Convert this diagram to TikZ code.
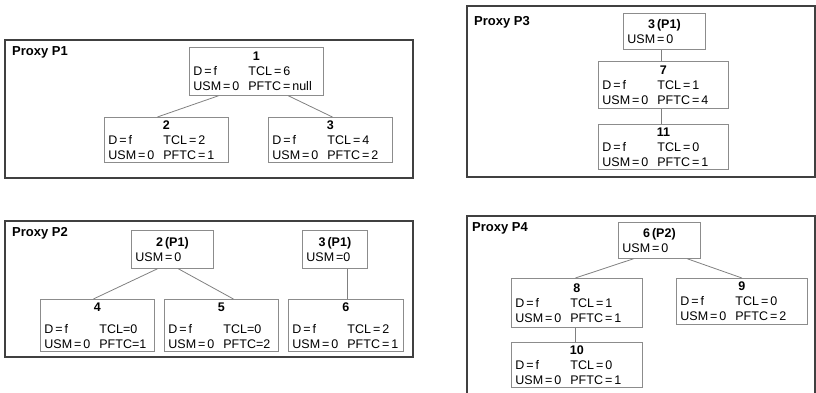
\documentclass[tikz,border=0pt]{standalone}
\usepackage{fontspec}
\setmainfont{Liberation Sans}

\newcommand{\eq}{\kern2pt=\kern2pt}
\newcommand{\col}[1]{\makebox[55pt][l]{#1}}
\newcommand{\hdr}[1]{{\centering\bfseries #1\par}}

\begin{document}
\begin{tikzpicture}[
    x=1pt, y=-1pt,
    panel/.style={draw=black!75, line width=1.3pt},
    proxy/.style={anchor=west, inner sep=0pt, font=\fontsize{13}{15}\selectfont\bfseries},
    box/.style={draw=black!45, rectangle, anchor=north west, inner xsep=4pt, inner ysep=1pt, align=left, font=\fontsize{12.5}{15}\selectfont, line width=0.8pt},
    link/.style={draw=black!50, line width=0.8pt}
]
\useasboundingbox (0,0) rectangle (816,393);

% Proxy P1
\draw[panel] (5,40) rectangle (413,178);
\node (lp1) [proxy] at (12,52) {Proxy P1};
\node (p1n1) [box, text width=126pt, minimum height=48pt] at (189,47) {\hdr{1}\col{D\eq f}TCL\eq 6\\\col{USM\eq 0}PFTC\eq null};
\node (p1n2) [box, text width=116pt, minimum height=45pt] at (104,117) {\hdr{2}\col{D\eq f}TCL\eq 2\\\col{USM\eq 0}PFTC\eq 1};
\node (p1n3) [box, text width=116pt, minimum height=45pt] at (268,117) {\hdr{3}\col{D\eq f}TCL\eq 4\\\col{USM\eq 0}PFTC\eq 2};

\draw[link] ([xshift=-38pt]p1n1.south) -- ([xshift=-9pt]p1n2.north);
\draw[link] ([xshift=32pt]p1n1.south) -- ([xshift=2pt]p1n3.north);

% Proxy P2
\draw[panel] (5,221) rectangle (413,357);
\node (lp2) [proxy] at (12,233) {Proxy P2};
\node (p2n2) [box, text width=74pt, minimum height=38pt] at (131,230) {\hdr{2\kern2pt(P1)}USM\eq 0};
\node (p2n3) [box, text width=57pt, minimum height=38pt] at (302,230) {\hdr{3\kern2pt(P1)}USM\kern2pt=0};
\node (p2n4) [box, text width=106pt, minimum height=52pt] at (40,299) {\hdr{4}\vspace{7pt}\col{D\eq f}TCL=0\\\col{USM\eq 0}PFTC=1};
\node (p2n5) [box, text width=106pt, minimum height=52pt] at (164,299) {\hdr{5}\vspace{7pt}\col{D\eq f}TCL=0\\\col{USM\eq 0}PFTC=2};
\node (p2n6) [box, text width=107pt, minimum height=52pt] at (288,299) {\hdr{6}\vspace{7pt}\col{D\eq f}TCL\eq 2\\\col{USM\eq 0}PFTC\eq 1};

\draw[link] ([xshift=-15pt]p2n2.south) -- ([xshift=-4pt]p2n4.north);
\draw[link] ([xshift=6pt]p2n2.south) -- ([xshift=12pt]p2n5.north);
\draw[link] ([xshift=1.5pt]p2n6.north) -- ([xshift=1.5pt]p2n6.north |- p2n3.south);

% Proxy P3
\draw[panel] (467,6) rectangle (815,177);
\node (lp3) [proxy] at (474,22) {Proxy P3};
\node (p3n3) [box, text width=74pt, minimum height=36pt] at (623,13) {\hdr{3\kern2pt(P1)}USM\eq 0};
\node (p3n7) [box, text width=122pt, minimum height=47pt] at (598,61) {\hdr{7}\col{D\eq f}TCL\eq 1\\\col{USM\eq 0}PFTC\eq 4};
\node (p3n11) [box, text width=122pt, minimum height=45pt] at (598,124) {\hdr{11}\col{D\eq f}TCL\eq 0\\\col{USM\eq 0}PFTC\eq 1};

\draw[link] ([xshift=-2pt]p3n7.north) -- ([xshift=-2pt]p3n7.north |- p3n3.south);
\draw[link] ([xshift=-2pt]p3n7.south) -- ([xshift=-2pt]p3n11.north);

% Proxy P4
\draw[panel] (467,216) rectangle (815,396);
\node (lp4) [proxy] at (472,228) {Proxy P4};
\node (p4n6) [box, text width=74pt, minimum height=36pt] at (618,222) {\hdr{6\kern2pt(P2)}USM\eq 0};
\node (p4n8) [box, text width=123pt, minimum height=49pt] at (511,278) {\hdr{8}\col{D\eq f}TCL\eq 1\\\col{USM\eq 0}PFTC\eq 1};
\node (p4n9) [box, text width=123pt, minimum height=46pt] at (676,278) {\hdr{9}\col{D\eq f}TCL\eq 0\\\col{USM\eq 0}PFTC\eq 2};
\node (p4n10) [box, text width=123pt, minimum height=45pt] at (511,342) {\hdr{10}\col{D\eq f}TCL\eq 0\\\col{USM\eq 0}PFTC\eq 1};

\draw[link] ([xshift=-26pt]p4n6.south) -- ([xshift=-1.5pt]p4n8.north);
\draw[link] ([xshift=28pt]p4n6.south) -- (p4n9.north);
\draw[link] ([xshift=-2pt]p4n8.south) -- ([xshift=-2pt]p4n10.north);

\end{tikzpicture}
\end{document}
